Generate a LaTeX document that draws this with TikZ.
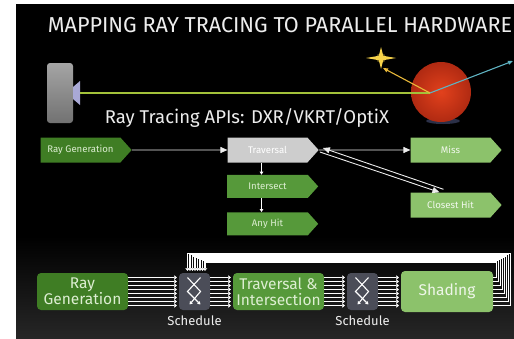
\documentclass[tikz,border=0pt]{standalone}
\usepackage{fontspec}
\setmainfont{Fira Sans}
\usetikzlibrary{positioning,arrows.meta,shapes.symbols,calc}
\definecolor{inkwhite}{HTML}{EDEDED}
\definecolor{nvdeep}{HTML}{3F7D24}
\definecolor{nvmid}{HTML}{56993A}
\definecolor{nvpale}{HTML}{8CC26B}
\definecolor{travgrey}{HTML}{CDCDCD}
\definecolor{schedgrey}{HTML}{4B4D58}
\definecolor{boxtext}{HTML}{DDEED2}
\definecolor{camgrey}{HTML}{8E8E8E}
\definecolor{lensblue}{HTML}{A9A9D6}
\definecolor{raygreen}{HTML}{A3C23A}
\definecolor{raygold}{HTML}{E9B93A}
\definecolor{raycyan}{HTML}{5FB3C2}
\definecolor{sphere}{HTML}{E2411C}
\definecolor{sphereedge}{HTML}{B02A12}
\definecolor{stargold}{HTML}{F6D24A}
\definecolor{plinth}{HTML}{2B3048}
\tikzset{
  stage/.style={signal, signal to=east, signal pointer angle=96, fill=#1, draw=none,
                text=boxtext, font=\fontsize{9.6}{10}\selectfont, minimum width=91pt,
                minimum height=25pt, inner sep=2pt},
  block/.style={rectangle, rounded corners=4pt, fill=#1, text=boxtext, align=center,
                font=\fontsize{15.5}{16}\selectfont, minimum width=91pt,
                minimum height=37pt, inner sep=1pt},
  sched/.style={rectangle, rounded corners=4pt, fill=schedgrey,
                minimum width=31pt, minimum height=37pt},
  flow/.style={-{Triangle[length=7pt,width=6pt]}, line width=0.9pt, draw=inkwhite},
  bus/.style={-{Triangle[length=2.5pt,width=4.5pt]}, line width=1.1pt, draw=white},
  mix/.style={-{Triangle[length=3pt,width=3.5pt]}, line width=1.1pt, draw=white},
  ray/.style={-{Triangle[length=5pt,width=4pt]}, line width=1.1pt, draw=#1},
  caption/.style={text=inkwhite, font=\fontsize{13}{14}\selectfont},
}

\begin{document}
\begin{tikzpicture}[x=1pt,y=-1pt]
  \useasboundingbox (0,0) rectangle (514,338);
  \fill[white] (0,0) rectangle (514,338);
  \fill[black] (16,4) rectangle (514,338);
  \shade[top color=black, bottom color=black!85] (16,236) rectangle (514,338);

  \node[text=inkwhite, font=\fontsize{21.6}{22}\selectfont] (title) at (280,25)
    {MAPPING RAY TRACING TO PARALLEL HARDWARE};

  % camera, sphere and light
  \node[rectangle, rounded corners=3pt, top color=camgrey!80!white, bottom color=camgrey!80!black,
        minimum width=26pt, minimum height=60pt] (cam) at (60,93) {};
  \fill[lensblue] (73,87) -- (80,81) -- (80,105) -- (73,99) -- cycle;
  \coordinate (lens) at (80,93);
  \fill[plinth] (443,121) ellipse (17 and 3);
  \node[circle, inner color=sphere, outer color=sphereedge, minimum size=60pt] (ball) at (441,92) {};
  \coordinate (star) at (381,58);
  \fill[stargold, opacity=0.35] (star) circle (5);
  \fill[stargold] (star) +(0,-11) -- +(2.2,-2.2) -- +(15,0) -- +(2.2,2.2) -- +(0,11)
    -- +(-2.2,2.2) -- +(-15,0) -- +(-2.2,-2.2) -- cycle;
  \coordinate (hit) at (430,93);
  \coordinate (glint) at (383,68);
  \coordinate (exit) at (513,61);
  \draw[line width=1.3pt, draw=raygreen] (lens) -- (hit);
  \draw[ray=raygold] (hit) -- (glint);
  \draw[ray=raycyan] (hit) -- (exit);

  \node[text=inkwhite, font=\fontsize{18.5}{19}\selectfont] (api) at (247,118)
    {Ray Tracing APIs: DXR/VKRT/OptiX};

  % shader stages
  \node[stage=nvdeep] (rgen) at (80.5,150) {Ray Generation};
  \node[stage=travgrey, text=white] (trav) at (267.5,150) {Traversal};
  \node[stage=nvpale, text=white!88!nvpale] (miss) at (450.5,150) {Miss};
  \node[stage=nvmid, minimum height=23pt, below=12pt of trav] (isect) {Intersect};
  \node[stage=nvmid, minimum height=23pt, below=14pt of isect] (anyhit) {Any Hit};
  \node[stage=nvpale, text=white!88!nvpale] (chit) at (450.5,205) {Closest Hit};

  \draw[flow] (rgen) -- (trav);
  \draw[flow] (trav) -- (miss);
  \draw[mix] ([xshift=-6pt]trav.south) -- ([xshift=-6pt]isect.north);
  \draw[mix] ([xshift=-6pt]isect.south) -- ([xshift=-6pt]anyhit.north);
  \draw[flow] ([shift={(1,2)}]trav.east) -- ([shift={(-11,0)}]chit.north);
  \draw[flow] ([shift={(-7,-3)}]chit.north) -- ([shift={(4,-2)}]trav.east);

  % hardware pipeline
  \node[block=nvdeep] (rgb) at (82.5,291.5) {Ray\\Generation};
  \node[sched] (sch1) at (194.5,291.5) {};
  \node[block=nvmid] (tai) at (278.5,291.5) {Traversal \&\\Intersection};
  \node[sched] (sch2) at (362.5,291.5) {};
  \node[block=nvpale, minimum width=92pt, minimum height=41pt, text=white!85!nvpale]
    (shd) at (447,291.5) {Shading};
  \node[caption, below=2pt of sch1] (cap1) {Schedule};
  \node[caption, below=2pt of sch2] (cap2) {Schedule};

  \foreach \a/\b in {rgb/sch1, sch1/tai, tai/sch2, sch2/shd}
    \foreach \k in {0,...,7}
      \draw[bus] ([yshift={(14-4*\k)*1pt}]\a.east) -- ([xshift=-2pt,yshift={(14-4*\k)*1pt}]\b.west);

  % rays fed back from shading
  \foreach \k in {0,...,7} {
    \coordinate (drop) at ([xshift={(10.5-2.5*\k)*1pt}]sch1.north);
    \coordinate (bar) at (0,{262-1.2*\k});
    \draw[bus, line width=1.3pt] ([yshift={(14-4*\k)*1pt}]shd.east) -- ++({3+2*\k},0) |- (drop |- bar)
      -- ([yshift=2pt]drop);
  }

  \foreach \s in {sch1,sch2} {
    \draw[mix] ([shift={(-7,-14)}]\s.center) -- ([shift={(6,0)}]\s.center) -- ([shift={(-5,13)}]\s.center);
    \draw[mix] ([shift={(6,-14)}]\s.center) -- ([shift={(-7,0)}]\s.center) -- ([shift={(6,13)}]\s.center);
  }
\end{tikzpicture}
\end{document}
